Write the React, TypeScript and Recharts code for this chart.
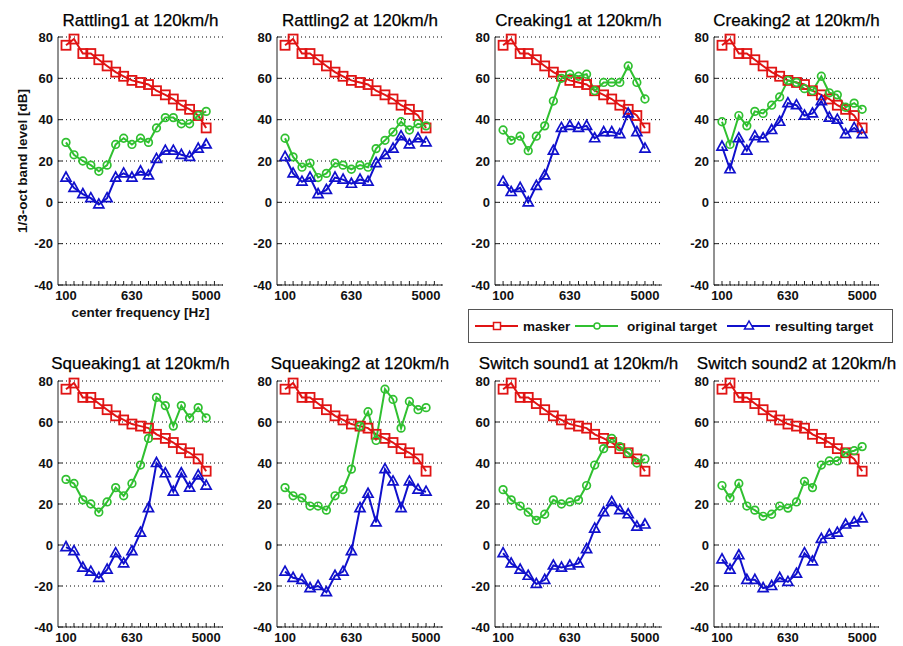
import React from 'react';
import { LineChart, Line, XAxis, YAxis, CartesianGrid } from 'recharts';

// 1/3-octave band centre frequencies [Hz]
const FREQS = [100, 125, 160, 200, 250, 315, 400, 500, 630, 800, 1000, 1250, 1600, 2000, 2500, 3150, 4000, 5000];
const TICK_FREQS = [100, 125, 160, 200, 250, 315, 400, 500, 630, 800, 1000, 1250, 1600, 2000, 2500, 3150, 4000, 5000, 6300];
const LABELED_FREQS = [100, 630, 5000];
const Y_TICKS = [-40, -20, 0, 20, 40, 60, 80];

// masker (same in every panel)
const MASKER = [76, 79, 72, 72, 69, 66, 63, 61, 59, 58, 57, 54, 52, 50, 47, 45, 42, 36];

const TITLES = [
  'Rattling1 at 120km/h', 'Rattling2 at 120km/h', 'Creaking1 at 120km/h', 'Creaking2 at 120km/h',
  'Squeaking1 at 120km/h', 'Squeaking2 at 120km/h', 'Switch sound1 at 120km/h', 'Switch sound2 at 120km/h',
];

const rattling1Original = [29, 23, 20, 18, 15, 18, 28, 31, 28, 31, 29, 36, 41, 41, 38, 38, 42, 44];
const rattling1Resulting = [12, 7, 4, 2, -1, 2, 12, 14, 12, 15, 13, 21, 25, 25, 23, 22, 26, 28];
const rattling2Original = [31, 22, 17, 19, 12, 14, 19, 18, 16, 18, 17, 26, 30, 34, 39, 35, 38, 37];
const rattling2Resulting = [22, 14, 10, 12, 4, 6, 12, 11, 9, 11, 10, 19, 23, 26, 32, 28, 31, 29];
const creaking1Original = [35, 30, 32, 25, 32, 37, 49, 60, 62, 61, 62, 54, 58, 58, 58, 66, 58, 50];
const creaking1Resulting = [10, 5, 7, 0, 8, 13, 25, 36, 37, 36, 37, 31, 34, 34, 33, 43, 34, 26];
const creaking2Original = [39, 28, 42, 37, 44, 43, 47, 51, 59, 58, 55, 54, 61, 53, 52, 46, 48, 45];
const creaking2Resulting = [27, 16, 31, 25, 32, 31, 35, 39, 48, 47, 42, 43, 49, 41, 40, 33, 36, 33];
const squeaking1Original = [32, 30, 22, 20, 16, 21, 28, 24, 30, 39, 52, 72, 68, 58, 68, 62, 67, 62];
const squeaking1Resulting = [-1, -3, -11, -13, -16, -12, -4, -9, -3, 6, 18, 40, 35, 26, 35, 28, 34, 29];
const squeaking2Original = [28, 24, 23, 19, 19, 17, 24, 27, 37, 58, 65, 51, 76, 71, 57, 70, 66, 67];
const squeaking2Resulting = [-13, -16, -17, -21, -20, -23, -15, -13, -3, 18, 25, 11, 37, 31, 18, 31, 27, 26];
const switch1Original = [27, 22, 19, 16, 12, 15, 22, 20, 21, 22, 29, 39, 47, 52, 48, 45, 40, 42];
const switch1Resulting = [-4, -9, -12, -15, -19, -17, -10, -11, -10, -9, -2, 8, 16, 21, 17, 15, 9, 10];
const switch2Original = [29, 23, 30, 19, 17, 14, 15, 19, 18, 21, 31, 28, 39, 41, 41, 45, 46, 48];
const switch2Resulting = [-7, -12, -5, -17, -17, -21, -20, -16, -18, -14, -4, -8, 3, 5, 6, 10, 11, 13];

const ORIGINALS = [rattling1Original, rattling2Original, creaking1Original, creaking2Original,
  squeaking1Original, squeaking2Original, switch1Original, switch2Original];
const RESULTINGS = [rattling1Resulting, rattling2Resulting, creaking1Resulting, creaking2Resulting,
  squeaking1Resulting, squeaking2Resulting, switch1Resulting, switch2Resulting];

const SERIES_NAMES = ['masker', 'original target', 'resulting target'];
const RED = '#e01414';
const GREEN = '#30c030';
const BLUE = '#1010cc';
const AXIS = '#222';
const FONT = '"Liberation Sans", Arial, Helvetica, sans-serif';

// layout
const PLOT_LEFTS = [58, 277, 495, 714];
const PLOT_WIDTHS = [165, 166, 167, 165];
const PLOT_TOPS = [37, 381];
const PLOT_HEIGHTS = [248, 246];
const ML = 50, MR = 10, MT = 30, MB = 30;

const tickText = { fontFamily: FONT, fontSize: 13, fontWeight: 700, fill: '#111' } as const;

const BottomTick = (p: any) => {
  const { x, y, payload } = p;
  const show = LABELED_FREQS.includes(payload.value);
  return (
    <g>
      <line x1={x} x2={x} y1={y} y2={y - 4} stroke={AXIS} strokeWidth={1} />
      {show && (
        <text x={x} y={y + 15} textAnchor="middle" style={tickText}>{payload.value}</text>
      )}
    </g>
  );
};
const TopTick = (p: any) => {
  const { x, y } = p;
  return <line x1={x} x2={x} y1={y} y2={y + 4} stroke={AXIS} strokeWidth={1} />;
};
const LeftTick = (p: any) => {
  const { x, y, payload } = p;
  return (
    <g>
      <line x1={x} x2={x + 4} y1={y} y2={y} stroke={AXIS} strokeWidth={1} />
      <text x={x - 5} y={y} dy="0.36em" textAnchor="end" style={tickText}>{payload.value}</text>
    </g>
  );
};
const RightTick = (p: any) => {
  const { x, y } = p;
  return <line x1={x - 4} x2={x} y1={y} y2={y} stroke={AXIS} strokeWidth={1} />;
};

const SquareDot = (p: any) => {
  const { cx, cy, index } = p;
  if (cx == null || cy == null) return <g key={index} />;
  return <rect key={index} x={cx - 4.5} y={cy - 4.5} width={9} height={9} fill="none" stroke={RED} strokeWidth={1.8} />;
};
const CircleDot = (p: any) => {
  const { cx, cy, index } = p;
  if (cx == null || cy == null) return <g key={index} />;
  return <circle key={index} cx={cx} cy={cy} r={3.8} fill="none" stroke={GREEN} strokeWidth={1.7} />;
};
const TriangleDot = (p: any) => {
  const { cx, cy, index } = p;
  if (cx == null || cy == null) return <g key={index} />;
  return (
    <polygon key={index} points={`${cx},${cy - 5.5} ${cx - 5},${cy + 3.5} ${cx + 5},${cy + 3.5}`}
      fill="none" stroke={BLUE} strokeWidth={1.7} />
  );
};

const Panel = ({ idx }: { idx: number }) => {
  const col = idx % 4;
  const row = Math.floor(idx / 4);
  const pw = PLOT_WIDTHS[col];
  const ph = PLOT_HEIGHTS[row];
  const data = FREQS.map((f, i) => ({
    f,
    masker: MASKER[i],
    original: ORIGINALS[idx][i],
    resulting: RESULTINGS[idx][i],
  }));
  return (
    <div style={{ position: 'absolute', left: PLOT_LEFTS[col] - ML, top: PLOT_TOPS[row] - MT }}>
      <LineChart width={ML + pw + MR} height={MT + ph + MB} data={data}
        margin={{ top: MT, right: MR, bottom: 0, left: 0 }}>
        <CartesianGrid xAxisId="b" yAxisId="l" vertical={false} stroke="#000" strokeDasharray="1 3" />
        <XAxis xAxisId="b" dataKey="f" type="number" scale="log" domain={[80, 8000]} allowDataOverflow
          ticks={TICK_FREQS} interval={0} orientation="bottom" height={MB}
          tickLine={false} tickSize={0} tickMargin={0} axisLine={{ stroke: AXIS }} tick={BottomTick} />
        <XAxis xAxisId="t" dataKey="f" type="number" scale="log" domain={[80, 8000]} allowDataOverflow
          ticks={TICK_FREQS} interval={0} orientation="top" height={0}
          tickLine={false} tickSize={0} tickMargin={0} axisLine={{ stroke: AXIS }} tick={TopTick} />
        <YAxis yAxisId="l" type="number" domain={[-40, 80]} ticks={Y_TICKS} interval={0} width={ML}
          tickLine={false} tickSize={0} tickMargin={0} axisLine={{ stroke: AXIS }} tick={LeftTick} />
        <YAxis yAxisId="r" orientation="right" type="number" domain={[-40, 80]} ticks={Y_TICKS} interval={0} width={0}
          tickLine={false} tickSize={0} tickMargin={0} axisLine={{ stroke: AXIS }} tick={RightTick} />
        <Line xAxisId="b" yAxisId="l" dataKey="masker" name={SERIES_NAMES[0]} stroke={RED} strokeWidth={2}
          dot={SquareDot} activeDot={false} isAnimationActive={false} />
        <Line xAxisId="b" yAxisId="l" dataKey="original" name={SERIES_NAMES[1]} stroke={GREEN} strokeWidth={2}
          dot={CircleDot} activeDot={false} isAnimationActive={false} />
        <Line xAxisId="b" yAxisId="l" dataKey="resulting" name={SERIES_NAMES[2]} stroke={BLUE} strokeWidth={2}
          dot={TriangleDot} activeDot={false} isAnimationActive={false} />
      </LineChart>
    </div>
  );
};

const Overlay = () => {
  const titleBaselines = [26, 369];
  const legendColors = [RED, GREEN, BLUE];
  const legendLineX = [475, 575, 727];
  const legendTextX = [523, 627, 775];
  return (
    <svg width={903} height={646} style={{ position: 'absolute', left: 0, top: 0, pointerEvents: 'none' }}>
      {TITLES.map((t, i) => {
        const col = i % 4;
        const row = Math.floor(i / 4);
        return (
          <text key={t} x={PLOT_LEFTS[col] + PLOT_WIDTHS[col] / 2} y={titleBaselines[row]} textAnchor="middle"
            style={{ fontFamily: FONT, fontSize: 17, fill: '#000', stroke: '#000', strokeWidth: 0.25 }}>{t}</text>
        );
      })}
      <text x={27} y={161} transform="rotate(-90 27 161)" textAnchor="middle"
        style={{ fontFamily: FONT, fontSize: 13.5, fontWeight: 700, fill: '#111' }}>1/3-oct band level [dB]</text>
      <text x={PLOT_LEFTS[0] + PLOT_WIDTHS[0] / 2} y={317} textAnchor="middle"
        style={{ fontFamily: FONT, fontSize: 13.5, fontWeight: 700, fill: '#111' }}>center frequency [Hz]</text>
      <rect x={468.5} y={309.5} width={424} height={33} fill="#fff" stroke="#555" strokeWidth={1} />
      {SERIES_NAMES.map((n, i) => {
        const x0 = legendLineX[i];
        const cx = x0 + 22;
        const c = legendColors[i];
        return (
          <g key={n}>
            <line x1={x0} x2={x0 + 43} y1={326} y2={326} stroke={c} strokeWidth={2} />
            {i === 0 && <rect x={cx - 3.5} y={322.5} width={7} height={7} fill="#fff" stroke={c} strokeWidth={1.5} />}
            {i === 1 && <circle cx={cx} cy={326} r={3} fill="#fff" stroke={c} strokeWidth={1.5} />}
            {i === 2 && <polygon points={`${cx},${321} ${cx - 4.5},${329} ${cx + 4.5},${329}`} fill="#fff" stroke={c} strokeWidth={1.5} />}
            <text x={legendTextX[i]} y={330.5} style={{ fontFamily: FONT, fontSize: 13.5, fontWeight: 700, fill: '#111' }}>{n}</text>
          </g>
        );
      })}
    </svg>
  );
};

export default function App() {
  return (
    <div style={{ position: 'absolute', left: 0, top: 0, width: 903, height: 646, background: '#fff', overflow: 'hidden' }}>
      {[0, 1, 2, 3, 4, 5, 6, 7].map((i) => <Panel key={i} idx={i} />)}
      <Overlay />
    </div>
  );
}
